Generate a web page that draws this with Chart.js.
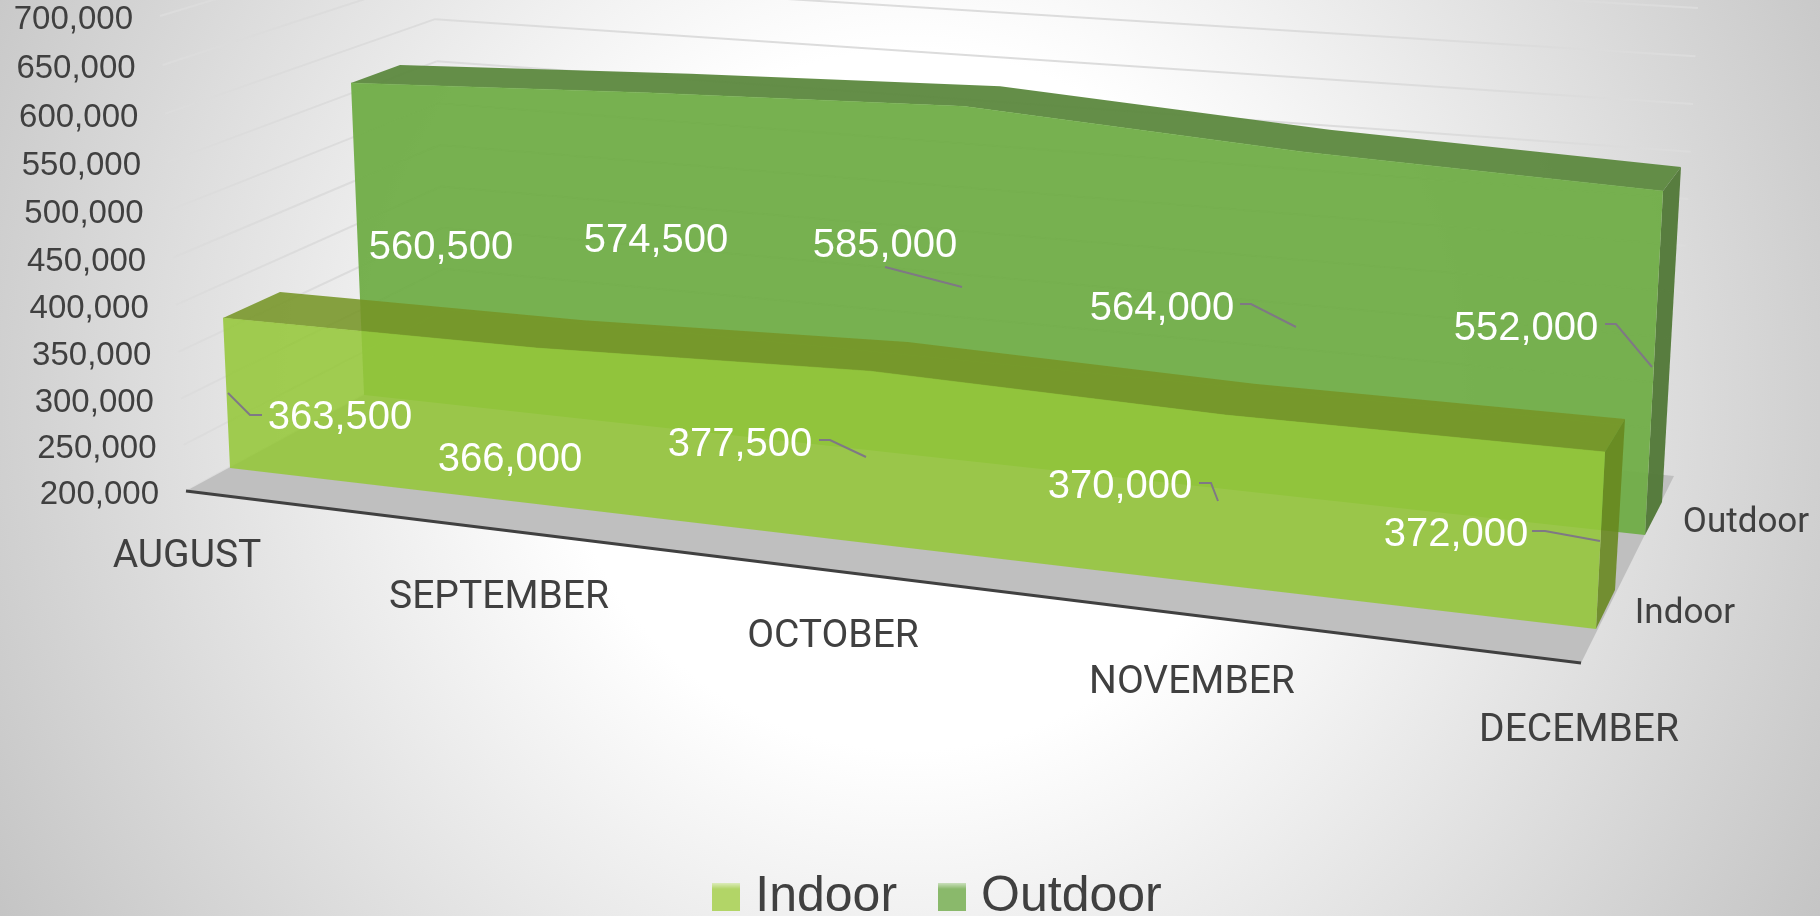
<!DOCTYPE html>
<html>
<head>
<meta charset="utf-8">
<title>Indoor and Outdoor</title>
<script src="https://cdn.jsdelivr.net/npm/chart.js@4"></script>
<style>
html,body{margin:0;padding:0;width:1820px;height:916px;overflow:hidden;
background:radial-gradient(circle at 910px 400px,#fff 0,#fff 350px,#c0c0c0 1100px);}
canvas{display:block}
</style>
</head>
<body>
<canvas id="c" width="1820" height="916"></canvas>
<script>
const categories = ['AUGUST','SEPTEMBER','OCTOBER','NOVEMBER','DECEMBER'];
const indoorValues = [363500,366000,377500,370000,372000];
const outdoorValues = [560500,574500,585000,564000,552000];
const seriesNames = ['Indoor','Outdoor'];
const axisMin = 200000, axisMax = 700000, axisStep = 50000;

/* ---- picture layout (screen geometry of the 3D box, not data) ---- */
const FONT = '"Liberation Sans", Arial, sans-serif';
const FONT2 = 'Roboto, "Liberation Sans", sans-serif';
const categoryLabelPos = [[187,557],[499,598],[833,637],[1192,683],[1579,731]];
const seriesLabelPos = {Indoor:[1685,614],Outdoor:[1746,523]};
const valueLabelPos = {
  Indoor:[[340,418],[510,460],[740,445],[1120,487],[1456,535]],
  Outdoor:[[441,248],[656,241],[885,246],[1162,309],[1526,329]]
};
const leaders = {
  Indoor:[[[262,415],[250,415],[228,393]],null,[[819,440],[830,440],[866,457]],[[1199,483],[1211,483],[1218,501]],[[1532,531],[1545,531],[1600,541]]],
  Outdoor:[null,null,[[885,267],[962,287]],[[1240,304],[1251,304],[1296,327]],[[1605,324],[1616,324],[1652,367]]]
};
const faceStyle = {
  Indoor:{front:'rgba(149,199,58,.88)',top:'rgba(118,149,39,.88)',side:'rgba(104,135,30,.88)'},
  Outdoor:{front:'rgba(112,173,71,.95)',top:'rgba(95,138,66,.97)',side:'rgba(84,122,58,.97)'}
};
/* each plane: four [category index, value, screen x, screen y] anchors */
const planeAnchors = {
  floorFront:[[0,axisMin,186,491],[4,axisMin,1581,663],[0,axisMax,160,16],[4,axisMax,1606,129]],
  wallBack:[[0,axisMin,447,350],[4,axisMin,1674,476],[0,axisMax,432,-66],[4,axisMax,1698,8]],
  IndoorFront:[[0,axisMin,230,468],[4,axisMin,1596,629],[0,363500,223,318],[4,372000,1605,452]],
  IndoorBack:[[0,axisMin,287,436],[4,axisMin,1615,590],[0,363500,280,292],[4,372000,1625,419]],
  OutdoorFront:[[0,axisMin,364,395],[4,axisMin,1645,535],[0,560500,351,83],[4,552000,1663,191]],
  OutdoorBack:[[0,axisMin,410,370],[4,axisMin,1662,502],[0,560500,400,65],[4,552000,1681,167]]
};

function solve(A,b){
  const n=b.length;
  for(let i=0;i<n;i++){
    let p=i;for(let r=i+1;r<n;r++)if(Math.abs(A[r][i])>Math.abs(A[p][i]))p=r;
    [A[i],A[p]]=[A[p],A[i]];[b[i],b[p]]=[b[p],b[i]];
    for(let r=i+1;r<n;r++){const f=A[r][i]/A[i][i];for(let c=i;c<n;c++)A[r][c]-=f*A[i][c];b[r]-=f*b[i];}
  }
  const x=new Array(n);
  for(let i=n-1;i>=0;i--){let s=b[i];for(let c=i+1;c<n;c++)s-=A[i][c]*x[c];x[i]=s/A[i][i];}
  return x;
}
function homography(pts){
  const A=[],b=[];
  for(const [u,v,x,y] of pts){
    A.push([u,v,1,0,0,0,-u*x,-v*x]);b.push(x);
    A.push([0,0,0,u,v,1,-u*y,-v*y]);b.push(y);
  }
  const h=solve(A,b);
  return (u,v)=>{const w=h[6]*u+h[7]*v+1;return [(h[0]*u+h[1]*v+h[2])/w,(h[3]*u+h[4]*v+h[5])/w];};
}
let planes=null;
function norm(chart,i,val){
  const xs=chart.scales.x,ys=chart.scales.y;
  return [(xs.getPixelForValue(i)-xs.left)/xs.width,(ys.bottom-ys.getPixelForValue(val))/ys.height];
}
function proj(chart,plane,i,val){
  const [u,v]=norm(chart,i,val);
  return planes[plane](u,v);
}
function poly(ctx,pts,fill){
  ctx.beginPath();pts.forEach((p,k)=>k?ctx.lineTo(p[0],p[1]):ctx.moveTo(p[0],p[1]));ctx.closePath();
  ctx.fillStyle=fill;ctx.fill();
}
function seg(ctx,a,b,color,w){
  ctx.beginPath();ctx.moveTo(a[0],a[1]);ctx.lineTo(b[0],b[1]);ctx.strokeStyle=color;ctx.lineWidth=w;ctx.stroke();
}
function swatch(color){
  const c=document.createElement('canvas');c.width=28;c.height=28;
  const x=c.getContext('2d');x.fillStyle=color;x.fillRect(0,0,28,28);
  const g=x.createLinearGradient(0,0,0,6);g.addColorStop(0,'rgba(255,255,255,.55)');g.addColorStop(1,'rgba(255,255,255,0)');
  x.fillStyle=g;x.fillRect(0,0,28,6);
  return c;
}
const fmt=v=>Number(v).toLocaleString('en-US');

const box3d={
  id:'box3d',
  afterDatasetsUpdate(chart){
    planes={};
    for(const k in planeAnchors){
      planes[k]=homography(planeAnchors[k].map(([i,val,x,y])=>{const [u,v]=norm(chart,i,val);return [u,v,x,y];}));
    }
    chart.data.datasets.forEach((ds,d)=>{
      chart.getDatasetMeta(d).data.forEach((pt,i)=>{
        const p=proj(chart,ds.label+'Front',i,ds.data[i]);pt.x=p[0];pt.y=p[1];
      });
    });
  },
  afterLayout(chart){
    const l=chart.legend;
    l.left+=32;l.right+=32;
    const dy=821-l.top;l.top+=dy;l.bottom+=dy;
  },
  beforeDatasetsDraw(chart){
    const ctx=chart.ctx,ys=chart.scales.y;
    ctx.save();
    // walls
    ys.ticks.forEach(t=>{
      const a=proj(chart,'floorFront',0,t.value),b=proj(chart,'wallBack',0,t.value),c=proj(chart,'wallBack',4,t.value);
      seg(ctx,a,b,'#dcdcdc',2);seg(ctx,b,c,'#dcdcdc',2);
    });
    // floor
    poly(ctx,[proj(chart,'floorFront',0,axisMin),proj(chart,'floorFront',4,axisMin),proj(chart,'wallBack',4,axisMin),proj(chart,'wallBack',0,axisMin)],'#bfbfbf');
    ctx.restore();
  },
  beforeDatasetDraw(chart,args){
    const ctx=chart.ctx,ds=chart.data.datasets[args.index],name=ds.label,st=faceStyle[name];
    const n=ds.data.length;
    const front=args.meta.data.map(p=>[p.x,p.y]);
    const back=ds.data.map((v,i)=>proj(chart,name+'Back',i,v));
    const fb=ds.data.map((v,i)=>proj(chart,name+'Front',i,axisMin));
    ctx.save();
    poly(ctx,front.concat(back.slice().reverse()),st.top);
    poly(ctx,[front[n-1],back[n-1],proj(chart,name+'Back',n-1,axisMin),fb[n-1]],st.side);
    poly(ctx,front.concat(fb.slice().reverse()),st.front);
    ctx.restore();
  },
  afterDatasetsDraw(chart){
    const ctx=chart.ctx,ys=chart.scales.y;
    ctx.save();
    // category axis line
    seg(ctx,proj(chart,'floorFront',0,axisMin),proj(chart,'floorFront',4,axisMin),'#404040',3);
    ctx.textBaseline='middle';
    // value axis tick labels
    ctx.fillStyle='#404040';ctx.textAlign='right';ctx.font='33px '+FONT;
    ys.ticks.forEach(t=>{
      const a=proj(chart,'floorFront',0,t.value);
      ctx.fillText(fmt(t.value),a[0]-27,a[1]+4);
    });
    // category labels
    ctx.textAlign='center';ctx.font='39px '+FONT2;
    chart.data.labels.forEach((c,i)=>ctx.fillText(c,categoryLabelPos[i][0],categoryLabelPos[i][1]));
    // series axis labels
    ctx.font='35px '+FONT2;
    seriesNames.forEach(s=>ctx.fillText(s,seriesLabelPos[s][0],seriesLabelPos[s][1]));
    // data labels
    chart.data.datasets.forEach(ds=>{
      ds.data.forEach((v,i)=>{
        const lead=leaders[ds.label][i];
        if(lead){
          ctx.beginPath();lead.forEach((p,k)=>k?ctx.lineTo(p[0],p[1]):ctx.moveTo(p[0],p[1]));
          ctx.strokeStyle='#7f7885';ctx.lineWidth=2;ctx.stroke();
        }
        ctx.fillStyle='#fff';ctx.font='40px '+FONT;
        ctx.fillText(fmt(v),valueLabelPos[ds.label][i][0],valueLabelPos[ds.label][i][1]);
      });
    });
    ctx.restore();
  }
};

new Chart(document.getElementById('c'),{
  type:'line',
  data:{
    labels:categories,
    datasets:[
      {label:seriesNames[0],data:indoorValues,borderColor:'rgba(149,199,58,.5)',backgroundColor:'#b2d567',borderWidth:1,pointRadius:0,fill:false,tension:0,clip:false},
      {label:seriesNames[1],data:outdoorValues,borderColor:'rgba(112,173,71,.5)',backgroundColor:'#8ab96b',borderWidth:1,pointRadius:0,fill:false,tension:0,clip:false}
    ]
  },
  options:{
    responsive:false,animation:false,
    layout:{padding:0},
    scales:{
      x:{type:'category',display:false,offset:false},
      y:{type:'linear',display:false,min:axisMin,max:axisMax,ticks:{stepSize:axisStep,autoSkip:false}}
    },
    plugins:{
      tooltip:{enabled:false},
      legend:{
        display:true,position:'bottom',
        labels:{
          usePointStyle:true,pointStyleWidth:8,padding:51,color:'#404040',
          font:{family:'"Liberation Sans"',size:50},
          generateLabels(chart){
            return chart.data.datasets.map((ds,i)=>({text:ds.label,pointStyle:swatch(ds.backgroundColor),datasetIndex:i,fontColor:'#404040',hidden:false,lineWidth:0,strokeStyle:'transparent',fillStyle:ds.backgroundColor}));
          }
        }
      }
    }
  },
  plugins:[box3d]
});
</script>
</body>
</html>
